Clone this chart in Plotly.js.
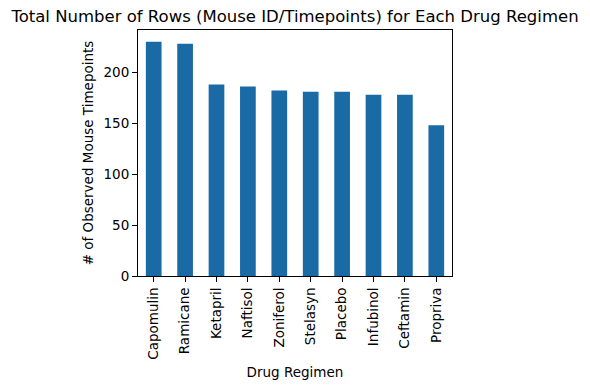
<!DOCTYPE html>
<html>
<head>
<meta charset="utf-8">
<script src="https://cdn.plot.ly/plotly-3.0.1.min.js"></script>
<style>html,body{margin:0;padding:0;background:#fff;}</style>
</head>
<body>
<div id="chart" style="width:590px;height:388px;"></div>
<script>
const regimens = ["Capomulin","Ramicane","Ketapril","Naftisol","Zoniferol","Stelasyn","Placebo","Infubinol","Ceftamin","Propriva"];
const counts = [230, 228, 188, 186, 182, 181, 181, 178, 178, 148];

const font = {family: "DejaVu Sans, sans-serif", size: 13.5, color: "#000"};

Plotly.newPlot("chart", [{
  type: "bar",
  x: regimens,
  y: counts,
  width: 0.5,
  marker: {color: "#1a6aa6"},
  hoverinfo: "x+y"
}], {
  width: 590,
  height: 388,
  margin: {l: 138, r: 138, t: 30, b: 112, pad: 0},
  paper_bgcolor: "#fff",
  plot_bgcolor: "#fff",
  font: font,
  showlegend: false,
  title: {text: "Total Number of Rows (Mouse ID/Timepoints) for Each Drug Regimen",
          font: {family: "DejaVu Sans, sans-serif", size: 16.5, color: "#000"},
          x: 0.5, xref: "paper", xanchor: "center", y: 0.957, yanchor: "middle"},
  xaxis: {
    type: "category",
    range: [-0.5, 9.5],
    tickangle: -90,
    ticks: "outside", ticklen: 5, tickwidth: 1, tickcolor: "#000",
    showline: true, linecolor: "#000", linewidth: 1, mirror: true,
    showgrid: false, zeroline: false,
    tickfont: font,
    title: {text: "Drug Regimen", font: font, standoff: 8}
  },
  yaxis: {
    range: [0, 241.5],
    tickvals: [0, 50, 100, 150, 200],
    ticks: "outside", ticklen: 5, tickwidth: 1, tickcolor: "#000",
    showline: true, linecolor: "#000", linewidth: 1, mirror: true,
    showgrid: false, zeroline: false,
    tickfont: font,
    title: {text: "# of Observed Mouse Timepoints", font: font, standoff: 6}
  }
}, {displayModeBar: false, staticPlot: true});
</script>
</body>
</html>
